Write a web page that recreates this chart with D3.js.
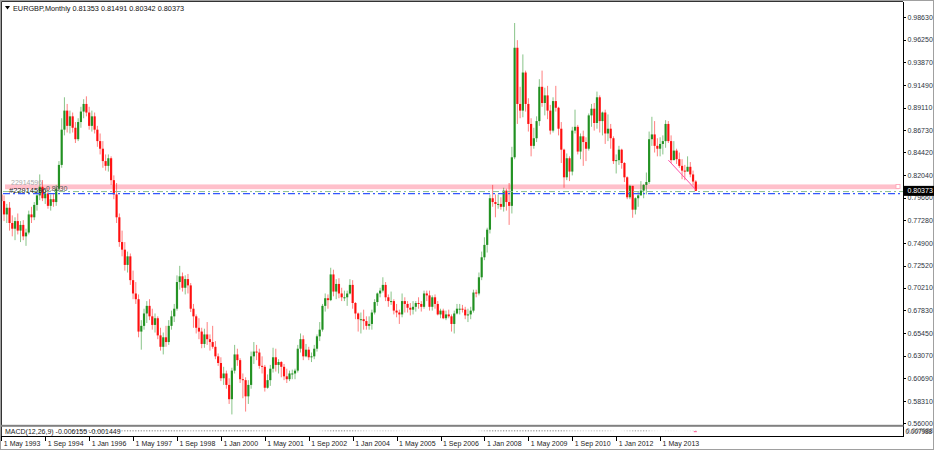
<!DOCTYPE html>
<html><head><meta charset="utf-8">
<script src="https://cdn.jsdelivr.net/npm/d3@7"></script>
<style>body{margin:0;background:#fff}svg{display:block}text{font-family:"Liberation Sans",Arial,sans-serif}</style>
</head><body><svg id="c" width="934" height="450"></svg>
<script>
// Monthly EURGBP candles, May 1993 .. Jun 2014
const open=[.8000,.7930,.7790,.7860,.7700,.7640,.7720,.7620,
.7680,.7560,.7600,.7790,.7760,.7890,.7990,.8080,.7960,.8010,.7880,.7950,
.7920,.8060,.8310,.8680,.8880,.8720,.8820,.8700,.8580,.8760,.8870,.8950,
.8860,.8720,.8820,.8680,.8560,.8480,.8350,.8300,.8380,.8150,.8000,.7760,
.7500,.7420,.7260,.7350,.7100,.6960,.6900,.6560,.6620,.6750,.6830,.6720,
.6630,.6700,.6520,.6400,.6500,.6450,.6620,.6720,.6800,.7080,.7140,.7020,
.7111,.7045,.6800,.6720,.6600,.6560,.6430,.6530,.6480,.6450,.6400,.6300,
.6230,.6070,.6120,.6000,.5850,.6150,.6320,.6260,.6060,.6050,.5880,.6000,
.6300,.6350,.6340,.6200,.6190,.5970,.6050,.6170,.6290,.6210,.6240,.6190,
.6090,.6060,.6120,.6120,.6150,.6380,.6480,.6300,.6370,.6290,.6300,.6380,
.6510,.6580,.6830,.6910,.6890,.7160,.6980,.7060,.6960,.6920,.6920,.6960,
.7050,.6860,.6750,.6690,.6690,.6670,.6620,.6640,.6760,.6870,.6960,.6990,
.7050,.6920,.6880,.6880,.6780,.6760,.6740,.6880,.6850,.6810,.6790,.6820,
.6860,.6850,.6820,.6960,.6940,.6820,.6920,.6850,.6740,.6780,.6700,.6740,
.6720,.6640,.6750,.6800,.6800,.6790,.6730,.6740,.6780,.6970,.6960,.7130,
.7340,.7470,.7630,.7960,.7920,.7900,.7900,.7870,.8040,.7920,.7880,.8390,
.9540,.8950,.8880,.9280,.8950,.8740,.8510,.8590,.8770,.9130,.8960,.9040,
.8880,.8670,.8980,.8910,.8690,.8470,.8180,.8380,.8240,.8670,.8710,.8450,
.8610,.8550,.8480,.8830,.8900,.8750,.9020,.8770,.8860,.8640,.8690,.8590,
.8350,.8360,.8470,.8330,.8180,.7970,.8090,.7840,.7960,.7990,.8040,.8100,
.8130,.8580,.8630,.8510,.8480,.8530,.8560,.8740,.8560,.8360,.8460,.8370,
.8300,.8250,.8240,.8290,.8210,.81353];
const high=[.8060,.7990,.7900,.7920,.7780,.7760,.7800,.7720,
.7730,.7640,.7830,.7870,.7920,.8020,.8210,.8150,.8060,.8070,.8000,.8010,
.8100,.8350,.8800,.9020,.8950,.8880,.8860,.8760,.8800,.8920,.9000,.9030,
.8920,.8880,.8860,.8720,.8640,.8560,.8420,.8420,.8400,.8200,.8120,.7800,
.7620,.7500,.7400,.7380,.7200,.7080,.6950,.6680,.6800,.6880,.6900,.6800,
.6750,.6720,.6600,.6550,.6620,.6680,.6780,.6850,.7150,.7250,.7180,.7150,
.7165,.7070,.6850,.6740,.6700,.6600,.6590,.6660,.6530,.6620,.6460,.6330,
.6290,.6190,.6150,.6070,.6180,.6420,.6380,.6280,.6120,.6080,.6050,.6350,
.6450,.6420,.6380,.6300,.6210,.6110,.6210,.6390,.6380,.6270,.6250,.6220,
.6170,.6150,.6160,.6170,.6420,.6540,.6520,.6430,.6400,.6340,.6420,.6530,
.6660,.6850,.6960,.6950,.7230,.7210,.7110,.7120,.7020,.6990,.6990,.7110,
.7100,.6870,.6760,.6760,.6790,.6720,.6720,.6790,.6900,.6970,.7020,.7130,
.7080,.6950,.6980,.6900,.6850,.6790,.6960,.6920,.6880,.6860,.6880,.6880,
.6920,.6880,.6990,.6990,.6990,.6940,.6950,.6880,.6800,.6800,.6780,.6790,
.6740,.6780,.6850,.6850,.6840,.6820,.6800,.6820,.7000,.7000,.7180,.7400,
.7550,.7650,.8000,.8100,.8000,.8000,.7970,.8070,.8060,.8120,.8500,.9800,
.9620,.9130,.9470,.9300,.9010,.8800,.8700,.8820,.9210,.9300,.9120,.9140,
.8940,.9020,.9140,.8920,.8760,.8480,.8430,.8400,.8710,.8890,.8730,.8640,
.8670,.8600,.8850,.8950,.8960,.9080,.9040,.8870,.8890,.8840,.8740,.8610,
.8420,.8510,.8480,.8340,.8190,.8100,.8090,.7970,.8030,.8140,.8110,.8230,
.8660,.8815,.8770,.8590,.8600,.8620,.8780,.8770,.8620,.8560,.8480,.8440,
.8370,.8310,.8400,.8340,.8250,.81491];
const low=[.7900,.7720,.7700,.7620,.7560,.7520,.7580,.7500,
.7520,.7460,.7580,.7700,.7730,.7830,.7940,.7930,.7900,.7850,.7830,.7870,
.7880,.8030,.8280,.8620,.8650,.8640,.8650,.8540,.8560,.8700,.8800,.8820,
.8680,.8660,.8640,.8500,.8420,.8280,.8250,.8240,.8100,.7950,.7700,.7450,
.7350,.7200,.7180,.7050,.6900,.6850,.6500,.6370,.6580,.6650,.6680,.6580,
.6550,.6480,.6360,.6320,.6400,.6420,.6580,.6660,.6780,.7000,.6980,.6950,
.6960,.6765,.6600,.6540,.6480,.6385,.6390,.6420,.6360,.6380,.6270,.6200,
.6040,.6000,.5960,.5800,.5690,.6120,.6200,.6020,.5860,.5720,.5800,.5960,
.6220,.6260,.6170,.6120,.5930,.5960,.5990,.6130,.6140,.6120,.6080,.6050,
.6020,.6040,.6060,.6060,.6130,.6340,.6260,.6290,.6260,.6240,.6270,.6350,
.6460,.6560,.6770,.6800,.6880,.6930,.6900,.6910,.6880,.6880,.6830,.6950,
.6800,.6690,.6560,.6540,.6580,.6580,.6580,.6580,.6740,.6830,.6920,.6970,
.6880,.6820,.6840,.6740,.6710,.6640,.6710,.6760,.6760,.6730,.6740,.6770,
.6800,.6770,.6800,.6880,.6780,.6780,.6800,.6730,.6700,.6690,.6680,.6700,
.6560,.6540,.6740,.6740,.6760,.6690,.6660,.6690,.6760,.6920,.6940,.7100,
.7310,.7390,.7590,.7870,.7760,.7850,.7840,.7820,.7830,.7680,.7800,.8370,
.8740,.8800,.8810,.8870,.8660,.8400,.8480,.8550,.8720,.8920,.8830,.8790,
.8630,.8650,.8870,.8620,.8330,.8070,.8150,.8140,.8200,.8640,.8420,.8370,
.8300,.8350,.8460,.8710,.8670,.8690,.8650,.8620,.8530,.8560,.8480,.8320,
.8220,.8310,.8270,.8130,.7950,.7950,.7755,.7790,.7870,.7990,.7960,.8000,
.8110,.8510,.8440,.8400,.8400,.8420,.8490,.8540,.8330,.8360,.8320,.8280,
.8160,.8150,.8240,.8180,.8100,.80342];
const close=[.7930,.7790,.7860,.7700,.7640,.7720,.7620,.7680,
.7560,.7600,.7790,.7760,.7890,.7990,.8080,.7960,.8010,.7880,.7950,.7920,
.8060,.8310,.8680,.8880,.8720,.8820,.8700,.8580,.8760,.8870,.8950,.8860,
.8720,.8820,.8680,.8560,.8480,.8350,.8300,.8380,.8150,.8000,.7760,.7500,
.7420,.7260,.7350,.7100,.6960,.6900,.6560,.6620,.6750,.6830,.6720,.6630,
.6700,.6520,.6400,.6500,.6450,.6620,.6720,.6800,.7080,.7140,.7020,.7111,
.7045,.6800,.6720,.6600,.6560,.6430,.6530,.6480,.6450,.6400,.6300,.6230,
.6070,.6120,.6000,.5850,.6150,.6320,.6260,.6060,.6050,.5880,.6000,.6300,
.6350,.6340,.6200,.6190,.5970,.6050,.6170,.6290,.6210,.6240,.6190,.6090,
.6060,.6120,.6120,.6150,.6380,.6480,.6300,.6370,.6290,.6300,.6380,.6510,
.6580,.6830,.6910,.6890,.7160,.6980,.7060,.6960,.6920,.6920,.6960,.7050,
.6860,.6750,.6690,.6690,.6670,.6620,.6640,.6760,.6870,.6960,.6990,.7050,
.6920,.6880,.6880,.6780,.6760,.6740,.6880,.6850,.6810,.6790,.6820,.6860,
.6850,.6820,.6960,.6940,.6820,.6920,.6850,.6740,.6780,.6700,.6740,.6720,
.6640,.6750,.6800,.6800,.6790,.6730,.6740,.6780,.6970,.6960,.7130,.7340,
.7470,.7630,.7960,.7920,.7900,.7900,.7870,.8040,.7920,.7880,.8390,.9540,
.8950,.8880,.9280,.8950,.8740,.8510,.8590,.8770,.9130,.8960,.9040,.8880,
.8670,.8980,.8910,.8690,.8470,.8180,.8380,.8240,.8670,.8710,.8450,.8610,
.8550,.8480,.8830,.8900,.8750,.9020,.8770,.8860,.8640,.8690,.8590,.8350,
.8360,.8470,.8330,.8180,.7970,.8090,.7840,.7960,.7990,.8040,.8100,.8130,
.8580,.8630,.8510,.8480,.8530,.8560,.8740,.8560,.8360,.8460,.8370,.8300,
.8250,.8240,.8290,.8210,.81353,.80373];

const priceTicks=[0.98630,0.96250,0.93870,0.91490,0.89110,0.86730,0.84420,0.82040,0.79660,0.77280,0.74900,0.72520,0.70210,0.67830,0.65450,0.63070,0.60690,0.58310,0.56000];
const xTickIndex=[0,16,32,48,64,80,96,112,128,144,160,176,192,208,224,240];
const xTickLabels=["1 May 1993","1 Sep 1994","1 Jan 1996","1 May 1997","1 Sep 1998","1 Jan 2000","1 May 2001","1 Sep 2002","1 Jan 2004","1 May 2005","1 Sep 2006","1 Jan 2008","1 May 2009","1 Sep 2010","1 Jan 2012","1 May 2013"];
const headerText="EURGBP,Monthly  0.81353 0.81491 0.80342 0.80373";
const macdText="MACD(12,26,9) -0.006155 -0.001449";
const macdAxisLabel="0.007988";
const lastPrice=0.80373;
const zone=[0.8055,0.8105];
const greenLevel=0.8030, blueLevel=0.8008;
const trendIdx=[243,253], trendPrice=[0.8360,0.8050];
const objLabels=["#22914596","0.8030"];

const GREEN="#138a13", RED="#ff0000";
const svg=d3.select("#c");
const W=934,H=450, RIGHT=903;
const x=d3.scaleLinear().domain([0,close.length-1]).range([1.3,695.8]);
const y=d3.scaleLinear().domain([0.56,0.9863]).range([423,17]);
const idx=d3.range(close.length);

// frame
svg.append("rect").attr("x",0.5).attr("y",0.5).attr("width",W-1).attr("height",H-1).attr("fill","#fff").attr("stroke","#a0a0a0");
svg.append("line").attr("x1",1.5).attr("x2",RIGHT).attr("y1",1.5).attr("y2",1.5).attr("stroke","#333");
svg.append("line").attr("x1",1.5).attr("x2",1.5).attr("y1",1.5).attr("y2",437).attr("stroke","#333");

const plot=svg.append("g");
svg.append("clipPath").attr("id","pc").append("rect").attr("x",2).attr("y",2).attr("width",RIGHT-2).attr("height",423);
plot.attr("clip-path","url(#pc)");

// pink zone
plot.append("rect").attr("x",5).attr("width",RIGHT-5-4).attr("y",y(zone[1])).attr("height",y(zone[0])-y(zone[1])).attr("fill","#ffc0cb");
plot.append("rect").attr("x",RIGHT-7).attr("y",y(zone[1])).attr("width",4).attr("height",4).attr("fill","#fff").attr("stroke","#ffa0b4").attr("stroke-width",0.8);

// candles
plot.selectAll("line.w").data(idx).join("line").attr("class","w")
 .attr("x1",i=>x(i)).attr("x2",i=>x(i)).attr("y1",i=>y(high[i])).attr("y2",i=>y(low[i]))
 .attr("stroke",i=>close[i]>=open[i]?GREEN:RED).attr("stroke-opacity",0.5).attr("stroke-width",1);
plot.selectAll("rect.b").data(idx).join("rect").attr("class","b")
 .attr("x",i=>x(i)-1.1).attr("width",2.2)
 .attr("y",i=>y(Math.max(open[i],close[i])))
 .attr("height",i=>Math.max(1,Math.abs(y(open[i])-y(close[i]))))
 .attr("fill",i=>close[i]>=open[i]?GREEN:RED).attr("fill-opacity",0.9);

// horizontal lines
plot.append("line").attr("x1",3).attr("x2",RIGHT).attr("y1",y(greenLevel)).attr("y2",y(greenLevel)).attr("stroke","#8fbf8f").attr("stroke-width",1).attr("stroke-dasharray","6,3,2,3");
plot.append("line").attr("x1",3).attr("x2",RIGHT).attr("y1",y(blueLevel)).attr("y2",y(blueLevel)).attr("stroke","#3355ff").attr("stroke-width",1.2).attr("stroke-dasharray","7,3,2,3");

// trend line
plot.append("line").attr("x1",x(trendIdx[0])).attr("y1",y(trendPrice[0])).attr("x2",x(trendIdx[1])).attr("y2",y(trendPrice[1])).attr("stroke","#ff4fa8").attr("stroke-width",1);

// object labels
plot.append("text").attr("x",11).attr("y",y(zone[1])+1).attr("font-size",7).attr("fill","#aaa").text(objLabels[0].slice(1));
plot.append("text").attr("x",9).attr("y",y(blueLevel)-1).attr("font-size",7.5).attr("fill","#222").text(objLabels[0]);
plot.append("text").attr("x",46).attr("y",y(blueLevel)-3).attr("font-size",7).attr("fill","#555").text(objLabels[1]);

// header
svg.append("path").attr("d","M5,6 L10,6 L7.5,9.5 Z").attr("fill","#000");
svg.append("text").attr("x",13).attr("y",10.5).attr("font-size",7.3).attr("fill","#111").text(headerText);

// right axis
svg.append("line").attr("x1",RIGHT+0.5).attr("x2",RIGHT+0.5).attr("y1",2).attr("y2",437).attr("stroke","#000");
const ra=svg.append("g");
ra.selectAll("line").data(priceTicks).join("line").attr("x1",RIGHT+1).attr("x2",RIGHT+3).attr("y1",d=>Math.round(y(d))+0.5).attr("y2",d=>Math.round(y(d))+0.5).attr("stroke","#000");
ra.selectAll("text").data(priceTicks).join("text").attr("x",RIGHT+4.5).attr("y",d=>y(d)+2.6).attr("font-size",7).attr("fill","#2d3440").text(d=>d.toFixed(5));
// current price box
svg.append("rect").attr("x",RIGHT+1).attr("y",y(lastPrice)-5).attr("width",30).attr("height",10).attr("fill","#000");
svg.append("text").attr("x",RIGHT+4.5).attr("y",y(lastPrice)+2.6).attr("font-size",7).attr("fill","#fff").text(lastPrice.toFixed(5));

// separator and MACD window
svg.append("rect").attr("x",1).attr("y",424.8).attr("width",RIGHT-0.5).attr("height",2).attr("fill","#808080");
svg.append("line").attr("x1",1).attr("x2",RIGHT+1).attr("y1",436.5).attr("y2",436.5).attr("stroke","#000");

// MACD histogram (from closes)
function ema(arr,n){const k=2/(n+1);const out=[];arr.forEach((v,i)=>out.push(i?v*k+out[i-1]*(1-k):v));return out;}
const e12=ema(close,12), e26=ema(close,26);
const macd=close.map((v,i)=>e12[i]-e26[i]);
const mg=svg.append("g");
mg.selectAll("rect").data(idx.filter(i=>i>25)).join("rect")
 .attr("x",i=>x(i)-0.6).attr("width",1.2).attr("y",430).attr("height",1.5)
 .attr("fill","#a8a8a8").attr("opacity",i=>Math.min(1,Math.abs(macd[i])/0.02));
svg.append("rect").attr("x",x(close.length-1)-2).attr("y",431).attr("width",3).attr("height",1.2).attr("fill","#ff6fa0");
svg.append("text").attr("x",5).attr("y",433.5).attr("font-size",7).attr("fill","#222").text(macdText);
svg.append("text").attr("x",RIGHT+2.5).attr("y",434).attr("font-size",6.4).attr("fill","#222").text(macdAxisLabel);
svg.append("text").attr("x",RIGHT+3.3).attr("y",433).attr("font-size",6.4).attr("fill","#222").attr("opacity",0.6).text(macdAxisLabel);

// x axis
const xa=svg.append("g");
xa.selectAll("line").data(xTickIndex).join("line").attr("x1",i=>Math.round(x(i))+0.5).attr("x2",i=>Math.round(x(i))+0.5).attr("y1",437).attr("y2",441).attr("stroke","#000");
xa.selectAll("text").data(xTickIndex).join("text").attr("x",i=>x(i)+2.5).attr("y",445.5).attr("font-size",7).attr("fill","#222").text((d,j)=>xTickLabels[j]);
</script></body></html>
